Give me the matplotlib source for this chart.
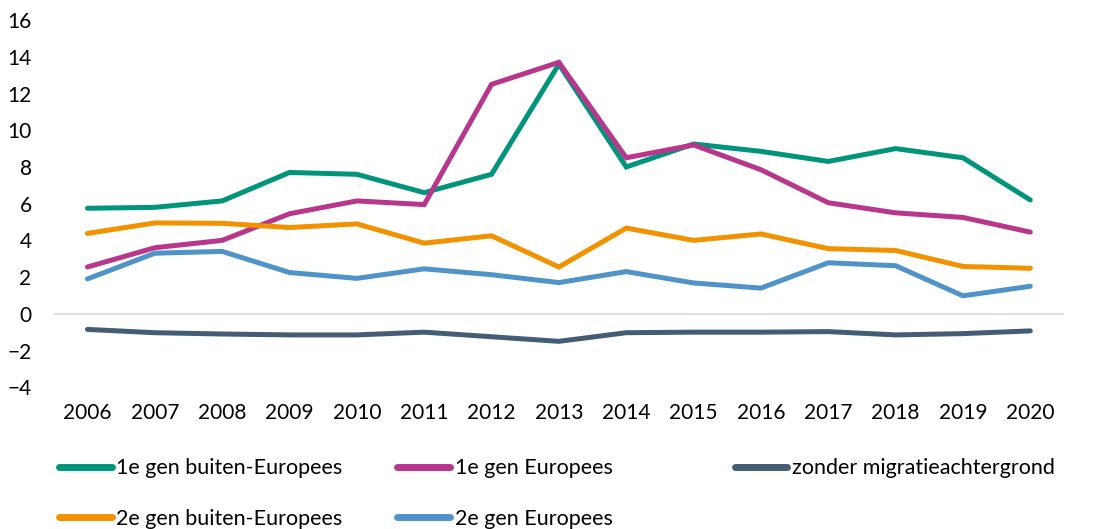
import matplotlib
matplotlib.use("Agg")
import matplotlib.pyplot as plt
from matplotlib.lines import Line2D

# ==========================================
# Data
# ==========================================

years = [2006, 2007, 2008, 2009, 2010, 2011, 2012, 2013,
         2014, 2015, 2016, 2017, 2018, 2019, 2020]

gen1_buiten = [5.75, 5.8, 6.15, 7.7, 7.6, 6.6, 7.6, 13.6,
               8.0, 9.25, 8.85, 8.3, 9.0, 8.5, 6.2]
gen1_europ = [2.55, 3.6, 4.0, 5.45, 6.15, 5.95, 12.5, 13.7,
              8.5, 9.2, 7.85, 6.05, 5.5, 5.25, 4.45]
zonder = [-0.85, -1.03, -1.1, -1.15, -1.15, -1.0, -1.25, -1.5,
          -1.03, -1.0, -1.0, -0.97, -1.15, -1.08, -0.93]
gen2_buiten = [4.38, 4.95, 4.93, 4.7, 4.9, 3.85, 4.25, 2.55,
               4.67, 4.0, 4.35, 3.55, 3.45, 2.58, 2.48]
gen2_europ = [1.9, 3.3, 3.4, 2.25, 1.93, 2.45, 2.13, 1.7,
              2.3, 1.68, 1.4, 2.78, 2.62, 0.98, 1.5]

series = [
    ("1e gen buiten-Europees", gen1_buiten, "#00957A"),
    ("1e gen Europees", gen1_europ, "#B8368B"),
    ("zonder migratieachtergrond", zonder, "#455C75"),
    ("2e gen buiten-Europees", gen2_buiten, "#F39200"),
    ("2e gen Europees", gen2_europ, "#4F93C9"),
]

# ==========================================
# Plot
# ==========================================

plt.rcParams["font.family"] = ["Lato", "DejaVu Sans"]

fig = plt.figure(figsize=(10.98, 5.29), dpi=100)
ax = fig.add_axes([0.049, 0.268, 0.920, 0.694])

x = list(range(len(years)))

ax.axhline(0, color="#D9D9D9", lw=1.2, zorder=1)

lines = {}
for name, vals, col in series:
    ln, = ax.plot(x, vals, color=col, lw=3.6, solid_capstyle="round",
                  solid_joinstyle="miter", zorder=3)
    lines[name] = ln

ax.set_xlim(-0.5, len(years) - 0.5)
ax.set_ylim(-4, 16)
ax.set_yticks(range(-4, 17, 2))
ax.set_xticks(x)
ax.set_xticklabels([str(y) for y in years])
ax.tick_params(axis="both", length=0, labelsize=15, colors="#000000")
ax.tick_params(axis="x", pad=11)
ax.tick_params(axis="y", pad=16)
for s in ax.spines.values():
    s.set_visible(False)

# legend: three columns, placed by hand
columns = [
    (0.054, ["1e gen buiten-Europees", "2e gen buiten-Europees"]),
    (0.362, ["1e gen Europees", "2e gen Europees"]),
    (0.669, ["zonder migratieachtergrond"]),
]
for xpos, names in columns:
    handles = [Line2D([], [], color=lines[n].get_color(), lw=5,
                      solid_capstyle="round") for n in names]
    fig.legend(handles, names, loc="upper left",
               bbox_to_anchor=(xpos, 0.134), frameon=False,
               fontsize=15.5, handlelength=2.45, handletextpad=0.2,
               labelspacing=1.43, borderpad=0, borderaxespad=0)

fig.savefig("out.png", dpi=100)
